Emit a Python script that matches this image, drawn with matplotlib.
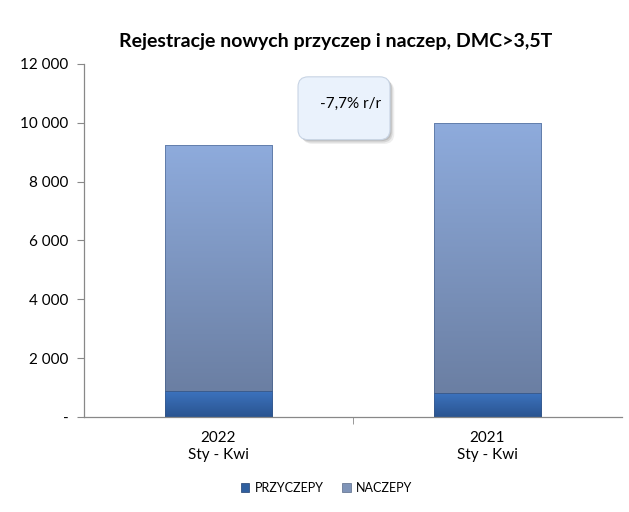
import numpy as np
import matplotlib.pyplot as plt
from matplotlib.patches import FancyBboxPatch
from matplotlib.ticker import FuncFormatter

plt.rcParams['font.family'] = ['Lato', 'DejaVu Sans']

# data
categories = ['2022\nSty - Kwi', '2021\nSty - Kwi']
przyczepy = [890, 830]
naczepy = [8340, 9170]
change_label = '-7,7% r/r'

fig = plt.figure(figsize=(6.29, 5.12), dpi=100)
ax = fig.add_axes([0.1335, 0.1855, 0.855, 0.69])

x = np.arange(len(categories))
w = 0.4

def grad_bar(x0, bottom, height, top_col, bot_col):
    # draw a bar with vertical gradient fill
    bars = ax.bar(x0, height, w, bottom=bottom, color='none', edgecolor='none')
    b = bars[0]
    c1 = np.array(plt.matplotlib.colors.to_rgb(top_col))
    c2 = np.array(plt.matplotlib.colors.to_rgb(bot_col))
    t = np.linspace(0, 1, 100)[:, None]
    img = (c1 * (1 - t) + c2 * t)[:, None, :]
    im = ax.imshow(img, extent=[x0 - w / 2, x0 + w / 2, bottom, bottom + height],
                   aspect='auto', origin='upper', zorder=2)
    im.set_clip_path(b)
    ax.add_patch(plt.Rectangle((x0 - w / 2, bottom), w, height, fill=False,
                               edgecolor='#3b5680', lw=0.6, alpha=0.6, zorder=3))

for i in range(len(categories)):
    grad_bar(x[i], 0, przyczepy[i], '#3d74c0', '#2a5490')
    grad_bar(x[i], przyczepy[i], naczepy[i], '#8eabdc', '#6b7fa3')

ax.set_xlim(-0.5, 1.5)
ax.set_ylim(0, 12000)
ax.set_yticks(np.arange(0, 12001, 2000))
ax.yaxis.set_major_formatter(FuncFormatter(
    lambda v, p: '-' if v == 0 else f'{int(v):,}'.replace(',', ' ')))
ax.set_xticks(x)
ax.set_xticklabels(categories, fontsize=11, linespacing=1.3)
ax.tick_params(axis='x', length=0, pad=10)
ax.set_xticks([0.5], minor=True)
ax.tick_params(axis='x', which='minor', length=5, direction='out', color='#888888')
ax.tick_params(axis='y', labelsize=11, length=5, direction='out', color='#888888', pad=6)

for s in ['top', 'right']:
    ax.spines[s].set_visible(False)
for s in ['left', 'bottom']:
    ax.spines[s].set_color('#888888')
    ax.spines[s].set_linewidth(0.9)

# annotation box
bx, by, bw, bh = 0.398, 0.785, 0.171, 0.178
for dx, dy, a in [(0.008, -0.012, 0.15), (0.005, -0.008, 0.25), (0.003, -0.004, 0.35)]:
    ax.add_patch(FancyBboxPatch((bx + dx, by + dy), bw, bh,
                                boxstyle='round,pad=0,rounding_size=0.019',
                                transform=ax.transAxes, facecolor='#909090', edgecolor='none',
                                alpha=a, zorder=4, mutation_aspect=1.5))
ax.add_patch(FancyBboxPatch((bx, by), bw, bh, boxstyle='round,pad=0,rounding_size=0.019',
                            transform=ax.transAxes, facecolor='#eaf2fc', edgecolor='#c8d4e4',
                            lw=0.8, zorder=5, mutation_aspect=1.5))
ax.text(0.553, 0.887, change_label, transform=ax.transAxes, ha='right', va='center',
        fontsize=11, zorder=6)

fig.text(0.534, 0.918, 'Rejestracje nowych przyczep i naczep, DMC>3,5T', ha='center',
         va='center', fontsize=14, fontweight='bold')

h1 = plt.Rectangle((0, 0), 1, 1, facecolor='#2f5f9f', edgecolor='#1f3f70', lw=0.5)
h2 = plt.Rectangle((0, 0), 1, 1, facecolor='#7f94b8', edgecolor='#5a6b88', lw=0.5)
fig.legend([h1, h2], ['PRZYCZEPY', 'NACZEPY'], loc='center', bbox_to_anchor=(0.519, 0.047),
           ncol=2, frameon=False, fontsize=9, handlelength=0.7, handleheight=0.7,
           handletextpad=0.4, columnspacing=1.5)

fig.savefig('out.png', dpi=100)
